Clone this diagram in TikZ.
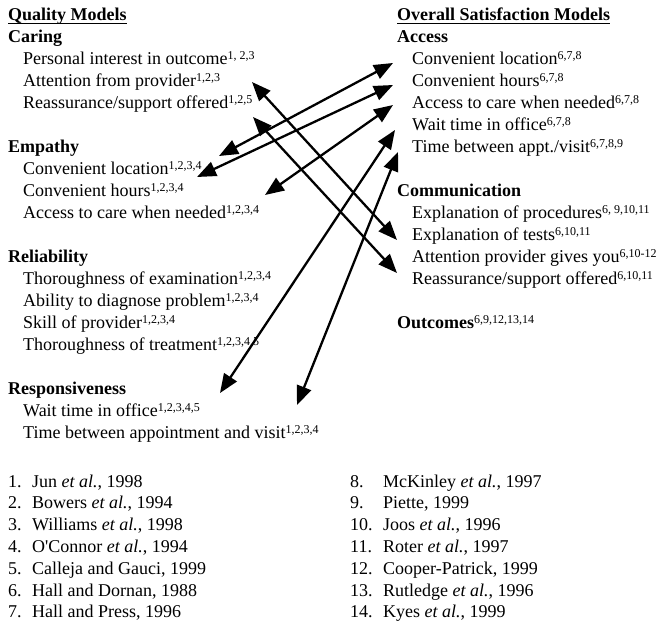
\documentclass[tikz,border=0pt]{standalone}
\usepackage{fontspec}
\setmainfont{Liberation Serif}
\usetikzlibrary{arrows.meta}
\newcommand\sups[1]{\raisebox{5.5pt}{\fontsize{12}{12}\selectfont #1}}
\begin{document}
\begin{tikzpicture}[x=1pt,y=-1pt,
  txt/.style={anchor=base west,inner sep=0pt,font=\fontsize{18}{21}\selectfont},
  hdr/.style={anchor=base west,inner sep=0pt,font=\fontsize{18}{21}\selectfont\bfseries},
  biarrow/.style={line width=2.3pt,{Triangle[length=19pt,width=15pt]}-{Triangle[length=19pt,width=15pt]}},
  uline/.style={line width=1.2pt}]
\useasboundingbox (0,0) rectangle (663,624);
% left column
\node[hdr] (qm) at (8,20.5) {Quality Models};
\draw[uline] ([yshift=-3pt]qm.base west) -- ([yshift=-3pt]qm.base east);
\node[hdr] (caring) at (8,42.5) {Caring};
\node[txt] (c1) at (23,64.5) {Personal interest in outcome\sups{1, 2,3}};
\node[txt] (c2) at (23,86.5) {Attention from provider\sups{1,2,3}};
\node[txt] (c3) at (23,108.5) {Reassurance/support offered\sups{1,2,5}};
\node[hdr] (emp) at (8,152.5) {Empathy};
\node[txt] (e1) at (23,174.5) {Convenient location\sups{1,2,3,4}};
\node[txt] (e2) at (23,196.5) {Convenient hours\sups{1,2,3,4}};
\node[txt] (e3) at (23,218.5) {Access to care when needed\sups{1,2,3,4}};
\node[hdr] (rel) at (8,262.5) {Reliability};
\node[txt] (r1) at (23,284.5) {Thoroughness of examination\sups{1,2,3,4}};
\node[txt] (r2) at (23,306.5) {Ability to diagnose problem\sups{1,2,3,4}};
\node[txt] (r3) at (23,328.5) {Skill of provider\sups{1,2,3,4}};
\node[txt] (r4) at (23,350.5) {Thoroughness of treatment\sups{1,2,3,4,5}};
\node[hdr] (resp) at (8,394.5) {Responsiveness};
\node[txt] (s1) at (23,416.5) {Wait time in office\sups{1,2,3,4,5}};
\node[txt] (s2) at (23,438.5) {Time between appointment and visit\sups{1,2,3,4}};
% right column
\node[hdr] (osm) at (397,20.5) {Overall Satisfaction Models};
\draw[uline] ([yshift=-3pt]osm.base west) -- ([yshift=-3pt]osm.base east);
\node[hdr] (acc) at (397,42.5) {Access};
\node[txt] (a1) at (412,64.5) {Convenient location\sups{6,7,8}};
\node[txt] (a2) at (412,86.5) {Convenient hours\sups{6,7,8}};
\node[txt] (a3) at (412,108.5) {Access to care when needed\sups{6,7,8}};
\node[txt] (a4) at (412,130.5) {Wait time in office\sups{6,7,8}};
\node[txt] (a5) at (412,152.5) {Time between appt./visit\sups{6,7,8,9}};
\node[hdr] (com) at (397,196.5) {Communication};
\node[txt] (m1) at (412,218.5) {Explanation of procedures\sups{6, 9,10,11}};
\node[txt] (m2) at (412,240.5) {Explanation of tests\sups{6,10,11}};
\node[txt] (m3) at (412,262.5) {Attention provider gives you\sups{6,10-12}};
\node[txt] (m4) at (412,284.5) {Reassurance/support offered\sups{6,10,11}};
\node[txt] (out) at (397,328.5) {\textbf{Outcomes}\sups{6,9,12,13,14}};
% references
\foreach \n/\t [count=\i from 0] in {1/Jun \textit{et al.}{,} 1998,
  2/Bowers \textit{et al.}{,} 1994,
  3/Williams \textit{et al.}{,} 1998,
  4/O\textquotesingle Connor \textit{et al.}{,} 1994,
  5/Calleja and Gauci{,} 1999,
  6/Hall and Dornan{,} 1988,
  7/Hall and Press{,} 1996}{
  \node[txt] (ln\n) at (8,487+21.8*\i) {\n.};
  \node[txt] (lt\n) at (32,487+21.8*\i) {\t};
}
\foreach \n/\t [count=\i from 0] in {8/McKinley \textit{et al.}{,} 1997,
  9/Piette{,} 1999,
  10/Joos \textit{et al.}{,} 1996,
  11/Roter \textit{et al.}{,} 1997,
  12/Cooper-Patrick{,} 1999,
  13/Rutledge \textit{et al.}{,} 1996,
  14/Kyes \textit{et al.}{,} 1999}{
  \node[txt] (rn\n) at (350,487+21.8*\i) {\n.};
  \node[txt] (rt\n) at (383,487+21.8*\i) {\t};
}
% arrow end points
\coordinate (lcl) at (219,156); \coordinate (rcl) at (393,63);
\coordinate (lch) at (197,177); \coordinate (rch) at (393,85);
\coordinate (lac) at (265,195); \coordinate (rac) at (393,105);
\coordinate (lwt) at (220,393); \coordinate (rwt) at (395,130);
\coordinate (ltb) at (297,405); \coordinate (rtb) at (398,152);
\coordinate (lat) at (252,82);  \coordinate (ret) at (397,240);
\coordinate (lre) at (253,117); \coordinate (rre) at (397,273);
\draw[biarrow] (lcl) -- (rcl);
\draw[biarrow] (lch) -- (rch);
\draw[biarrow] (lac) -- (rac);
\draw[biarrow] (lwt) -- (rwt);
\draw[biarrow] (ltb) -- (rtb);
\draw[biarrow] (lat) -- (ret);
\draw[biarrow] (lre) -- (rre);
\end{tikzpicture}
\end{document}
